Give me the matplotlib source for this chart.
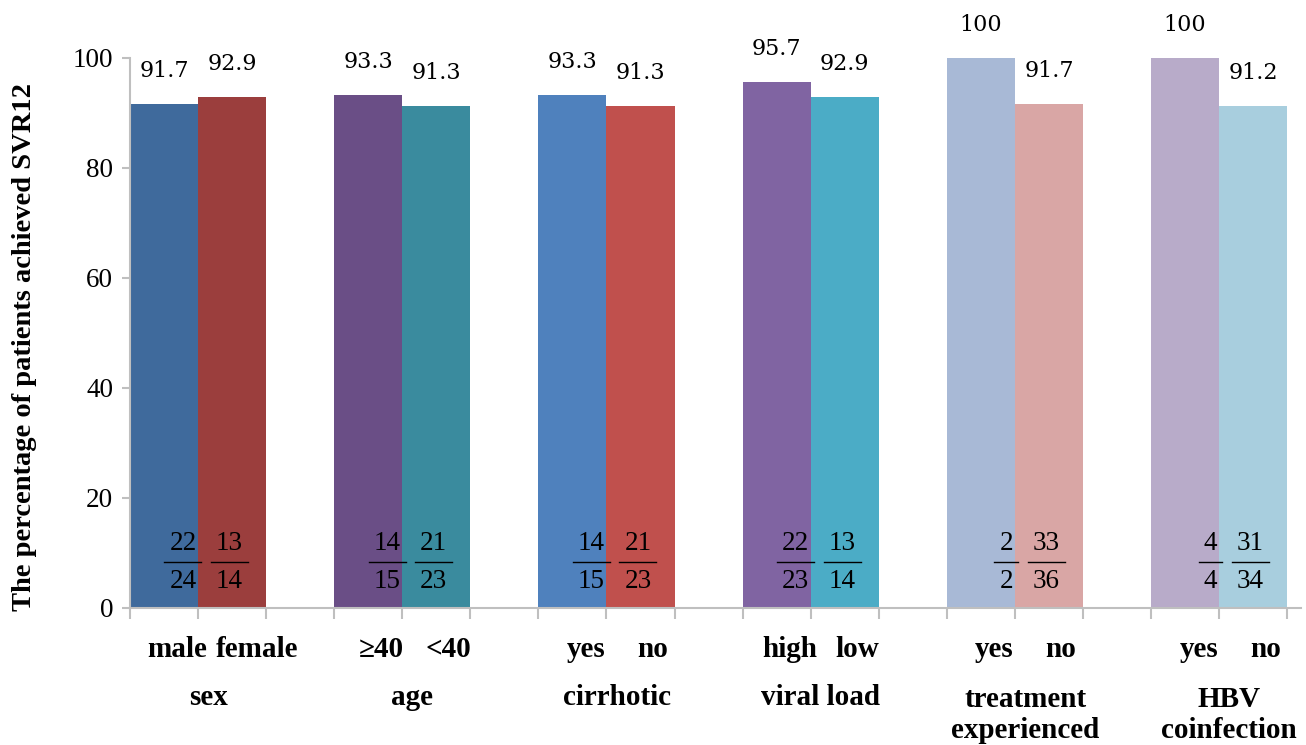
import numpy as np
import matplotlib
matplotlib.use("Agg")
import matplotlib.pyplot as plt

# data
groups = ["sex", "age", "cirrhotic", "viral load", "treatment\nexperienced", "HBV\ncoinfection"]
sub_labels = [["male", "female"], ["\u226540", "<40"], ["yes", "no"],
              ["high", "low"], ["yes", "no"], ["yes", "no"]]
values = [[91.7, 92.9], [93.3, 91.3], [93.3, 91.3], [95.7, 92.9], [100, 91.7], [100, 91.2]]
numer = [[22, 13], [14, 21], [14, 21], [22, 13], [2, 33], [4, 31]]
denom = [[24, 14], [15, 23], [15, 23], [23, 14], [2, 36], [4, 34]]
colors = [["#3F6A9C", "#9B3E3D"], ["#6A4E86", "#3A8B9E"], ["#4F81BD", "#C0504D"],
          ["#8064A2", "#4BACC6"], ["#A8B9D6", "#D9A6A5"], ["#B8ABC9", "#A8CEDE"]]

plt.rcParams["font.family"] = ["Liberation Serif", "DejaVu Serif"]

fig = plt.figure(figsize=(13.06, 7.45), dpi=100)
ax = fig.add_axes([0.0995, 0.1839, 0.8965, 0.7383])
ax.set_xlim(0, 17.2)
ax.set_ylim(0, 100)
renderer = fig.canvas.get_renderer()
inv = ax.transData.inverted()

grey = "#BFBFBF"
for g in range(len(groups)):
    start = g * 3
    for k in range(2):
        x0 = start + k
        ax.bar(x0, values[g][k], width=1.0, align="edge", color=colors[g][k], linewidth=0)
        # value label above bar
        ax.text(x0 + 0.5, values[g][k] + 6, f"{values[g][k]:g}", ha="center", va="center",
                fontsize=16, family="DejaVu Serif", clip_on=False)

    # sub labels under the axis, second one pushed right if they would touch
    t1 = ax.text(start + 0.7, -7.5, sub_labels[g][0], ha="center", va="center",
                 fontsize=21, fontweight="bold", clip_on=False)
    bb = t1.get_window_extent(renderer)
    min_left = inv.transform((bb.x1 + 8, 0))[0]
    t2 = ax.text(start + 1.68, -7.5, sub_labels[g][1], ha="center", va="center",
                 fontsize=21, fontweight="bold", clip_on=False)
    bb2 = t2.get_window_extent(renderer)
    left2 = inv.transform((bb2.x0, 0))[0]
    if left2 < min_left:
        t2.set_x(start + 1.68 + (min_left - left2))

    # fractions near the bar boundary
    boundary = start + 1
    for k in range(2):
        nd = max(len(str(numer[g][k])), len(str(denom[g][k])))
        w = (nd * 13 + 11) / 68.1
        if k == 0:
            left = boundary + 0.05 - w
        else:
            left = boundary + 0.19
        cx = left + w / 2
        ax.text(cx, 11.8, str(numer[g][k]), ha="center", va="center", fontsize=19.5)
        ax.text(cx, 4.9, str(denom[g][k]), ha="center", va="center", fontsize=19.5)
        ax.plot([left, left + w], [8.4, 8.4], color="black", linewidth=1.0)
    # group label
    ax.text(start + 1.15, -16.3, groups[g], ha="center", va="center", fontsize=21,
            fontweight="bold", linespacing=1.22, clip_on=False)

# place multi-line group labels so first line stays at the same height
for t in ax.texts:
    if "\n" in t.get_text():
        t.set_va("top")
        t.set_y(-14.1)

ax.set_xticks(np.arange(0, 18))
ax.set_xticklabels([])
ax.set_yticks(np.arange(0, 101, 20))
ax.tick_params(axis="y", length=6, width=1.5, color=grey, labelsize=19.5, pad=6)
ax.tick_params(axis="x", length=8, width=1.5, color=grey, direction="out")
for s in ["top", "right"]:
    ax.spines[s].set_visible(False)
for s in ["left", "bottom"]:
    ax.spines[s].set_color(grey)
    ax.spines[s].set_linewidth(1.5)

fig.text(25 / 1306, 1 - 347 / 745, "The percentage of patients achieved SVR12",
         rotation=90, ha="center", va="center", fontsize=20.5, fontweight="bold")

fig.savefig("out.png", dpi=100)
